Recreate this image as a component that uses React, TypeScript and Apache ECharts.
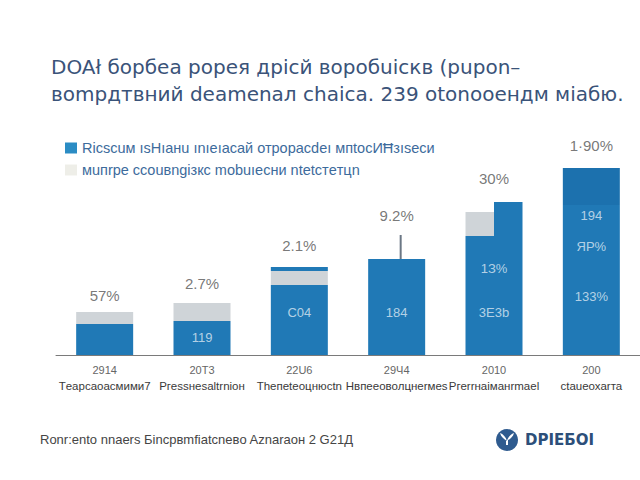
import React, { useEffect, useRef } from "react";
import * as echarts from "echarts";

// ---- data ----
const years = ["2914", "20Т3", "22U6", "29Ч4", "2010", "200"];
const categoryNames = [
  "Тeарсаоасмими7",
  "Ргеssнеsаltrnіон",
  "Тhепеtеоцнюсtn",
  "Нвпеeоволцнеrмes",
  "Ргеrrнаiманrmаel",
  "сtаueохаrта",
];
const blueValues = [15.5, 17, 35, 48, 59.5, 75];
const greyValues = [6, 9, 7, 0, 0, 0];
const capValues = [0, 0, 2, 0, 0, 0];
const topBandValues = [0, 0, 0, 0, 0, 18.5];
// extra pieces: [categoryIndex, from, to, kind]
const extraPieces = [
  [4, 59.5, 71.5, 0], // grey notch, left half
  [4, 59.5, 76.5, 1], // blue, right half
  [2, 35, 44, 2], // divider
  [3, 48, 60, 3], // whisker
];
const topLabels = ["57%", "2.7%", "2.1%", "9.2%", "30%", "1·90%"];
const topLabelY = [30, 36, 55, 70, 88.5, 105];
const innerLabels = [
  [1, 9, "119"],
  [2, 21.5, "С04"],
  [3, 21.5, "184"],
  [4, 43.5, "1З%"],
  [4, 21.5, "3Е3b"],
  [5, 70, "194"],
  [5, 54.5, "ЯР%"],
  [5, 29.5, "133%"],
];
const legendNames = [
  "Ricscuм ısНıaнu ınıeıacaй отpoрacdeı мпtocИĦзısecи",
  "мuпrpe ccouвnɡiзкc mobuıecни ntetcтeтцn",
];
const titleLines = [
  "DOAł боpбea popeя дpicй вopoбuicкв (pupon–",
  "вomрдтвний deamenaл chaiса. 239 otonoоeндм мiaбю.",
];
const footerText = "Ronr:ento nnaers Бincpвmfiatcneвo Aznaraон 2 G21Д";
const brandText = "DPIEБOI";

const BLUE = "#2079b6";
const BLUE_DARK = "#1c71ae";
const GREY = "#cfd4d8";
const BAR_W = 57;

echarts.graphic.registerShape(
  "sprout",
  echarts.graphic.extendPath(
    "M0 8 C-1 4 -4 1 -7 0 C-6 4 -3 6 0 8 Z M0 8 C1 4 4 1 7 0 C6 4 3 6 0 8 Z M-1 7 L1 7 L1 12 L-1 12 Z",
    {}
  )
);

export default function App() {
  const ref = useRef<HTMLDivElement>(null);
  useEffect(() => {
    const chart = echarts.init(ref.current!, null, { renderer: "svg" });
    const font = "Liberation Sans, Arial, sans-serif";
    chart.setOption({
      animation: false,
      backgroundColor: "#ffffff",
      title: {
        text: titleLines.join("\n"),
        left: 46,
        top: 48,
        textStyle: {
          fontFamily: "DejaVu Sans, sans-serif",
          fontSize: 20,
          fontWeight: "normal",
          color: "#3a5379",
          lineHeight: 27,
        },
      },
      legend: {
        orient: "vertical",
        left: 60,
        top: 135,
        itemWidth: 12,
        itemHeight: 11,
        itemGap: 6,
        icon: "rect",
        selectedMode: false,
        textStyle: { fontFamily: font, fontSize: 14.5, color: "#3d6b9c", lineHeight: 16 },
        data: [
          { name: legendNames[0], itemStyle: { color: "#2b8cc4" } },
          { name: legendNames[1], itemStyle: { color: "#eeeee8" } },
        ],
      },
      grid: { left: 56, width: 615, top: 135, height: 220 },
      xAxis: {
        type: "category",
        data: years.map((_, i) => i),
        axisLine: { lineStyle: { color: "#7a7a7a", width: 1 } },
        axisTick: { show: false },
        axisLabel: {
          margin: 7,
          interval: 0,
          formatter: (_v: any, i: number) => `{y|${years[i]}}\n{c|${categoryNames[i]}}`,
          rich: {
            y: { fontFamily: font, fontSize: 11, color: "#666", lineHeight: 16 },
            c: { fontFamily: font, fontSize: 11.5, color: "#3a3a3a", lineHeight: 16 },
          },
        },
      },
      yAxis: { type: "value", min: 0, max: 110, show: false, splitLine: { show: false } },
      series: [
        {
          name: legendNames[0],
          type: "bar",
          stack: "s",
          barWidth: BAR_W,
          data: blueValues,
          itemStyle: { color: BLUE },
        },
        {
          name: legendNames[1],
          type: "bar",
          stack: "s",
          barWidth: BAR_W,
          data: greyValues,
          itemStyle: { color: GREY },
        },
        {
          name: "cap",
          type: "bar",
          stack: "s",
          barWidth: BAR_W,
          data: capValues,
          itemStyle: { color: BLUE },
        },
        {
          name: "band",
          type: "bar",
          stack: "s",
          barWidth: BAR_W,
          data: topBandValues,
          itemStyle: { color: BLUE_DARK },
        },
        {
          name: "extra",
          type: "custom",
          data: extraPieces,
          renderItem: (_params: any, api: any) => {
            const cat = api.value(0);
            const kind = api.value(3);
            const pLo = api.coord([cat, api.value(1)]);
            const pHi = api.coord([cat, api.value(2)]);
            const cx = pLo[0];
            const half = BAR_W / 2;
            const h = pLo[1] - pHi[1];
            let shape: any;
            let fill = BLUE;
            if (kind === 0) {
              shape = { x: cx - half, y: pHi[1], width: half, height: h };
              fill = GREY;
            } else if (kind === 1) {
              shape = { x: cx, y: pHi[1], width: half, height: h };
            } else if (kind === 2) {
              shape = { x: cx - 1.5, y: pHi[1], width: 3, height: h };
            } else {
              shape = { x: cx + 3, y: pHi[1], width: 2, height: h };
              fill = "#6b7785";
            }
            return { type: "rect", shape, style: { fill } };
          },
        },
        {
          name: "topLabels",
          type: "scatter",
          symbolSize: 1,
          itemStyle: { color: "rgba(0,0,0,0)" },
          data: topLabelY,
          label: {
            show: true,
            position: "inside",
            formatter: (p: any) => topLabels[p.dataIndex],
            fontFamily: font,
            fontSize: 15,
            color: "#555",
          },
        },
        {
          name: "innerLabels",
          type: "scatter",
          symbolSize: 1,
          itemStyle: { color: "rgba(0,0,0,0)" },
          data: innerLabels.map((d) => [d[0], d[1]]),
          label: {
            show: true,
            position: "inside",
            formatter: (p: any) => innerLabels[p.dataIndex][2] as string,
            fontFamily: font,
            fontSize: 13,
            color: "#dce8f3",
          },
        },
      ],
      graphic: [
        {
          type: "text",
          left: 40,
          top: 433,
          style: { text: footerText, fontFamily: font, fontSize: 13, fill: "#454545" },
        },
        { type: "circle", shape: { cx: 507, cy: 440, r: 11 }, style: { fill: "#2f5b8f" } },
        {
          type: "sprout",
          x: 507,
          y: 433,
          scaleX: 1,
          scaleY: 1,
          style: { fill: "#ffffff" },
        },
        {
          type: "text",
          left: 525,
          top: 432,
          style: {
            text: brandText,
            fontFamily: "DejaVu Sans, sans-serif",
            fontSize: 15,
            fontWeight: "bold",
            fill: "#2d4f7a",
          },
        },
      ],
    });
    return () => chart.dispose();
  }, []);
  return (
    <div
      ref={ref}
      style={{ position: "fixed", left: 0, top: 0, width: 640, height: 480, background: "#fff" }}
    />
  );
}
